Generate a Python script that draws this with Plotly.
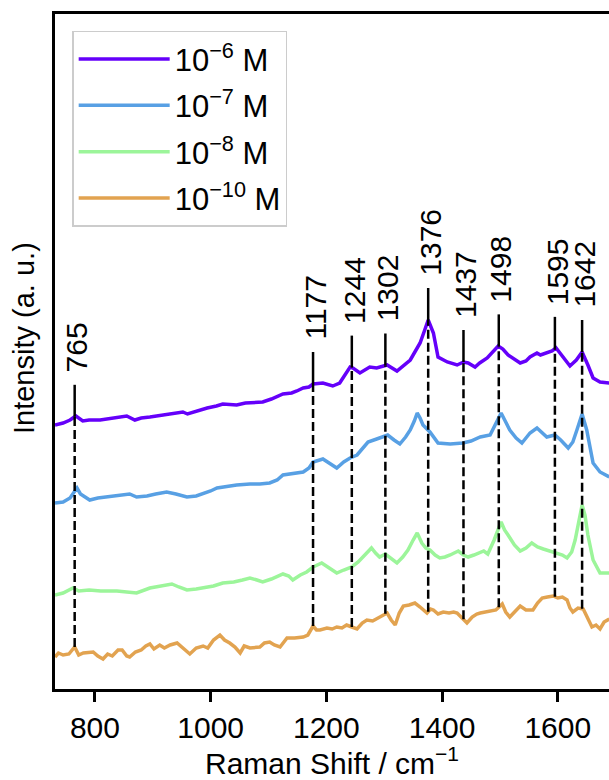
import numpy as np
import plotly.graph_objects as go

# ---------------- data ----------------
x_1e6 = [731, 745, 757, 767, 779, 790, 809, 830, 855, 869, 880, 895, 920, 952, 960, 975, 994, 1010, 1021, 1045,
         1060, 1090, 1105, 1125, 1140, 1149, 1160, 1170, 1177, 1194, 1211, 1223, 1235, 1241, 1246, 1258, 1275, 1287,
         1305, 1322, 1345, 1362, 1370, 1376, 1385, 1393, 1409, 1426, 1437, 1445, 1457, 1465, 1478, 1488, 1497, 1505,
         1514, 1535, 1545, 1552, 1564, 1570, 1581, 1590, 1597, 1609, 1621, 1632, 1642, 1652, 1661, 1673, 1689]
y_1e6 = [275, 277, 280, 284, 279, 280, 280, 282, 284, 280, 282, 283, 285, 288, 286, 289, 292, 294, 296, 295,
         297, 298, 301, 306, 307, 309, 312, 313, 316, 317, 314, 317, 328, 333, 332, 327, 333, 332,
         335, 329, 340, 357, 370, 380, 367, 343, 338, 335, 338, 337, 333, 337, 342, 348, 354, 351,
         345, 337, 339, 343, 347, 345, 347, 349, 352, 343, 334, 340, 348, 335, 322, 318, 317]

x_1e7 = [731, 745, 757, 764, 769, 775, 783, 791, 805, 820, 838, 850, 860, 872, 890, 905, 924, 940, 959, 975,
         987, 1000, 1011, 1030, 1045, 1068, 1085, 1102, 1115, 1125, 1140, 1160, 1170, 1177, 1194, 1205, 1218, 1230,
         1241, 1253, 1262, 1272, 1287, 1306, 1317, 1327, 1337, 1345, 1352, 1357, 1362, 1367, 1379, 1387, 1393, 1414,
         1436, 1450, 1466, 1483, 1492, 1502, 1510, 1517, 1528, 1538, 1545, 1552, 1564, 1572, 1581, 1595, 1605, 1618,
         1626, 1633, 1642, 1650, 1656, 1661, 1673, 1689]
y_1e7 = [197, 198, 202, 208, 212, 206, 203, 200, 202, 203, 205, 205, 206, 203, 204, 206, 208, 206, 203, 204,
         206, 209, 212, 214, 215, 216, 216, 217, 220, 225, 226, 228, 232, 238, 241, 237, 232, 238,
         242, 245, 251, 258, 261, 265, 260, 256, 263, 270, 279, 287, 282, 275, 268, 262, 257, 256,
         257, 259, 263, 265, 275, 287, 278, 270, 262, 257, 262, 267, 272, 268, 263, 265, 260, 252,
         258, 270, 286, 270, 250, 237, 228, 223]

x_1e8 = [731, 745, 762, 772, 790, 810, 838, 855, 872, 895, 915, 933, 945, 959, 975, 987, 1005, 1021, 1040, 1055,
         1068, 1080, 1090, 1105, 1125, 1135, 1142, 1155, 1166, 1177, 1192, 1205, 1218, 1230, 1244, 1255, 1263, 1278,
         1285, 1292, 1302, 1312, 1322, 1332, 1341, 1350, 1357, 1365, 1372, 1379, 1388, 1396, 1405, 1414, 1428, 1437,
         1445, 1455, 1466, 1472, 1479, 1490, 1502, 1508, 1514, 1525, 1535, 1545, 1555, 1565, 1575, 1587, 1598, 1608,
         1616, 1624, 1630, 1636, 1642, 1647, 1652, 1661, 1673, 1689]
y_1e8 = [105, 107, 112, 109, 110, 109, 109, 108, 107, 112, 114, 116, 113, 110, 111, 112, 114, 117, 118, 120,
         122, 120, 118, 121, 126, 124, 120, 125, 128, 133, 137, 132, 127, 130, 133, 138, 143, 152,
         147, 143, 146, 141, 137, 143, 150, 160, 167, 157, 152, 150, 145, 142, 143, 145, 149, 145,
         143, 145, 147, 149, 146, 160, 178, 170, 165, 155, 149, 152, 157, 153, 151, 149, 147, 145,
         142, 148, 160, 180, 195, 185, 165, 140, 127, 127]

x_1e10 = [731, 737, 745, 755, 765, 772, 780, 790, 797, 805, 814, 822, 830, 840, 847, 855, 860, 870, 880, 888,
          895, 902, 912, 920, 930, 942, 952, 964, 975, 987, 995, 1005, 1016, 1024, 1033, 1042, 1051, 1058, 1068,
          1078, 1085, 1093, 1102, 1110, 1120, 1132, 1145, 1160, 1168, 1177, 1183, 1189, 1201, 1210, 1218, 1227,
          1235, 1244, 1253, 1262, 1270, 1280, 1289, 1297, 1305, 1312, 1319, 1326, 1333, 1343, 1353, 1362, 1374,
          1380, 1385, 1393, 1402, 1412, 1420, 1426, 1435, 1443, 1452, 1460, 1466, 1475, 1483, 1493, 1504, 1510,
          1517, 1526, 1535, 1545, 1557, 1565, 1573, 1582, 1592, 1600, 1608, 1616, 1621, 1626, 1635, 1644, 1650,
          1659, 1666, 1673, 1680, 1689]
y_1e10 = [43, 47, 45, 46, 53, 45, 47, 48, 48, 44, 41, 46, 44, 50, 50, 44, 43, 48, 50, 54,
          56, 51, 55, 52, 55, 57, 52, 46, 52, 54, 52, 60, 65, 60, 57, 53, 47, 54, 52,
          53, 53, 57, 58, 55, 53, 62, 62, 63, 65, 74, 70, 70, 72, 71, 73, 72,
          75, 73, 71, 77, 80, 79, 82, 85, 87, 80, 75, 87, 94, 95, 97, 93, 87,
          91, 90, 86, 88, 87, 88, 87, 82, 77, 83, 86, 87, 88, 89, 90, 96, 88,
          83, 89, 94, 90, 90, 97, 102, 103, 104, 102, 103, 100, 92, 88, 92, 91, 84,
          73, 75, 71, 78, 81]

series_names = ["10<sup>\u22126</sup> M", "10<sup>\u22127</sup> M", "10<sup>\u22128</sup> M", "10<sup>\u221210</sup> M"]
series_colors = ["#6500fa", "#58a0e4", "#9cf59a", "#e2a350"]

peaks = [765, 1177, 1244, 1302, 1376, 1437, 1498, 1595, 1642]
x_ticks = [800, 1000, 1200, 1400, 1600]

FONT = "Liberation Sans, Arial, sans-serif"

fig = go.Figure()
for i, (xs, ys, name, col) in enumerate(zip([x_1e6, x_1e7, x_1e8, x_1e10], [y_1e6, y_1e7, y_1e8, y_1e10],
                                            series_names, series_colors)):
    fig.add_trace(go.Scatter(x=xs, y=ys, mode="lines", name=name, legendgroup=f"g{i}",
                             line=dict(color=col, width=3.5)))

shapes = []
annotations = []
for p in peaks:
    top = float(np.interp(p, x_1e6, y_1e6))
    bot = float(np.interp(p, x_1e10, y_1e10))
    shapes.append(dict(type="line", xref="x", yref="y", x0=p, x1=p, y0=bot, y1=top,
                       line=dict(color="black", width=2.5, dash="9px,4px")))
    shapes.append(dict(type="line", xref="x", yref="y", ysizemode="pixel", yanchor=top,
                       x0=p, x1=p, y0=0, y1=32, line=dict(color="black", width=2.5)))
    annotations.append(dict(x=p, y=top, xref="x", yref="y", text=str(p), showarrow=False,
                            textangle=-90, xanchor="center", yanchor="bottom", yshift=42, xshift=2,
                            font=dict(family=FONT, size=30, color="black")))

# y-axis title as a rotated text placed left of the axis
annotations.append(dict(x=0, y=0.52, xref="paper", yref="paper", text="Intensity (a. u.)",
                        showarrow=False, textangle=-90, xanchor="right", yanchor="middle", xshift=-13,
                        font=dict(family=FONT, size=29, color="black")))

fig.update_layout(
    width=609, height=780,
    margin=dict(l=55, r=0, t=14, b=91, pad=0),
    paper_bgcolor="white", plot_bgcolor="white",
    font=dict(family=FONT, size=30, color="black"),
    shapes=shapes, annotations=annotations,
    legend=dict(x=0.031, y=0.975, xanchor="left", yanchor="top", traceorder="grouped",
                tracegroupgap=3,
                bgcolor="white", bordercolor="#cccccc", borderwidth=1.5,
                font=dict(family=FONT, size=31, color="black"), itemwidth=91),
    xaxis=dict(range=[731, 1688.5], showline=True, linewidth=3, linecolor="black", mirror=True,
               ticks="outside", ticklen=10, tickwidth=3, tickcolor="black",
               tickvals=x_ticks, ticktext=[str(t) for t in x_ticks],
               tickfont=dict(family=FONT, size=30), showgrid=False, zeroline=False,
               title=dict(text="Raman Shift / cm<sup>\u22121</sup>", font=dict(family=FONT, size=30), standoff=8)),
    yaxis=dict(range=[11, 686], showline=True, linewidth=3, linecolor="black", mirror=False,
               showticklabels=False, ticks="", showgrid=False, zeroline=False),
)

fig.write_html("out.html")
